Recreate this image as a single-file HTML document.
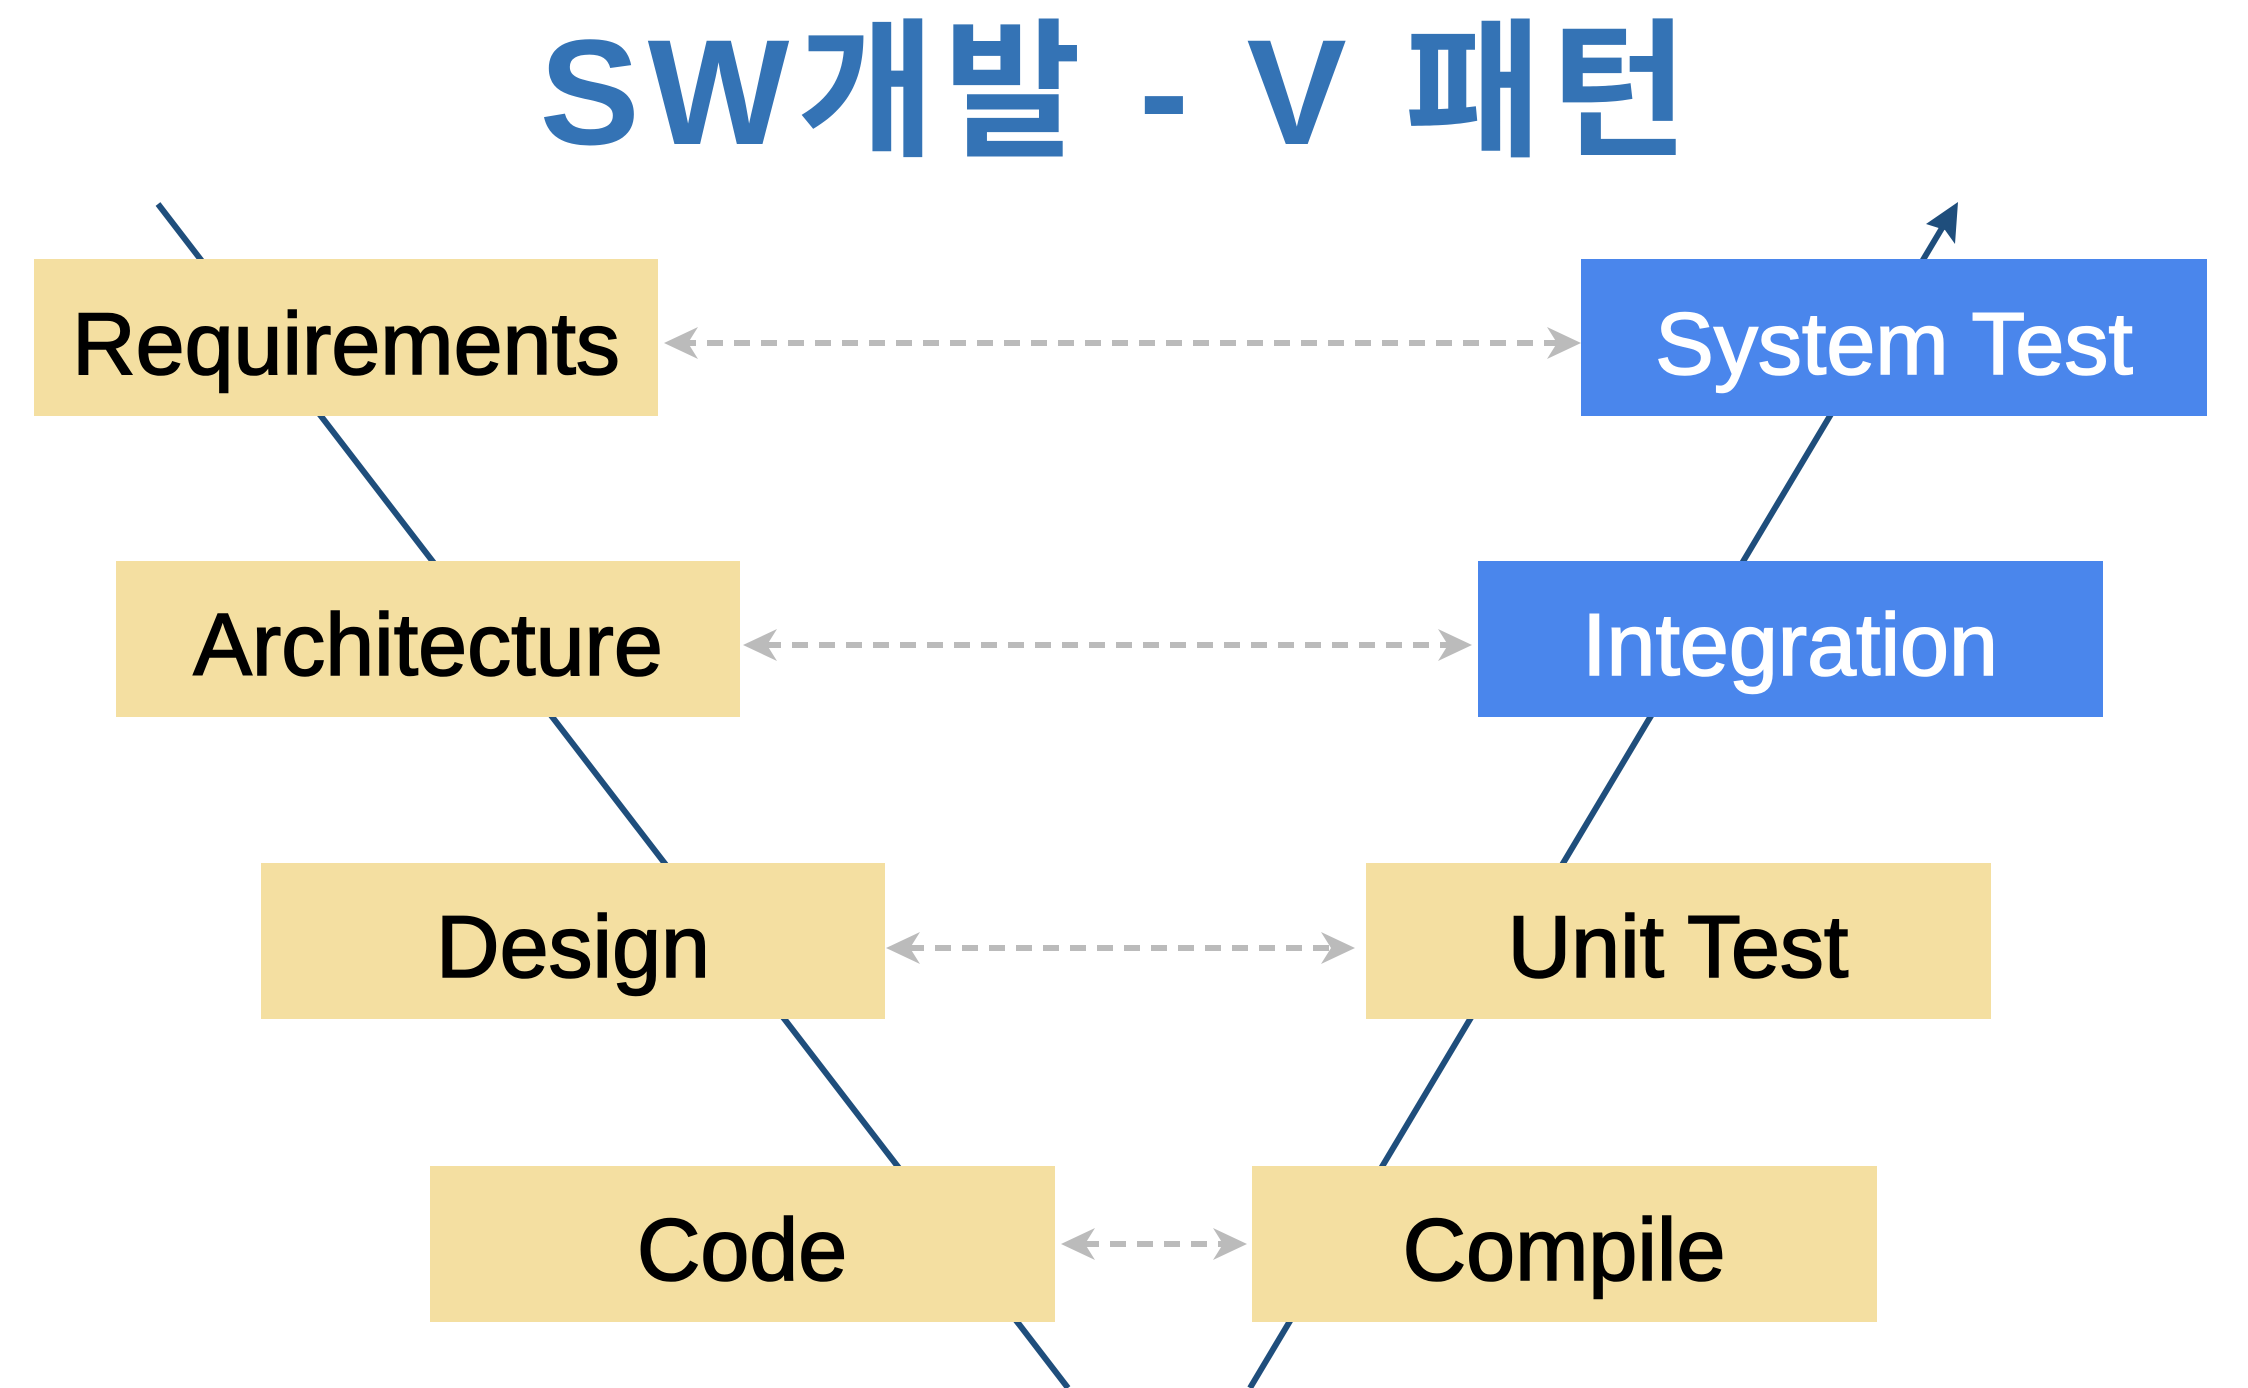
<!DOCTYPE html>
<html><head><meta charset="utf-8"><style>
html,body{margin:0;padding:0;background:#fff;}
svg{display:block;}
</style></head><body>
<svg width="2248" height="1388" viewBox="0 0 2248 1388" xmlns="http://www.w3.org/2000/svg">
<text x="1118" y="144" text-anchor="middle" font-family="'Liberation Sans','Noto Sans CJK KR',sans-serif" font-weight="bold" font-size="150" fill="#3473b5" letter-spacing="8">SW개발 - V 패턴</text>
<line x1="158" y1="204" x2="1068" y2="1388" stroke="#1f4e7c" stroke-width="6"/>
<line x1="1250" y1="1388" x2="1948" y2="218" stroke="#1f4e7c" stroke-width="6"/>
<polygon points="1958,202 1955,244 1945,230 1926,224" fill="#1f4e7c"/>
<g font-family="'Liberation Sans',sans-serif" font-size="88" text-anchor="middle" stroke-width="1.6">
<rect x="34" y="259" width="624" height="157" fill="#f4dfa1"/>
<text x="346" y="374" fill="#000" stroke="#000">Requirements</text>
<rect x="116" y="561" width="624" height="156" fill="#f4dfa1"/>
<text x="428" y="675" fill="#000" stroke="#000">Architecture</text>
<rect x="261" y="863" width="624" height="156" fill="#f4dfa1"/>
<text x="573" y="977" fill="#000" stroke="#000">Design</text>
<rect x="430" y="1166" width="625" height="156" fill="#f4dfa1"/>
<text x="742" y="1280" fill="#000" stroke="#000">Code</text>
<rect x="1581" y="259" width="626" height="157" fill="#4a86ec"/>
<text x="1894" y="374" fill="#fff" stroke="#fff">System Test</text>
<rect x="1478" y="561" width="625" height="156" fill="#4a86ec"/>
<text x="1790" y="675" fill="#fff" stroke="#fff">Integration</text>
<rect x="1366" y="863" width="625" height="156" fill="#f4dfa1"/>
<text x="1678" y="977" fill="#000" stroke="#000">Unit Test</text>
<rect x="1252" y="1166" width="625" height="156" fill="#f4dfa1"/>
<text x="1564" y="1280" fill="#000" stroke="#000">Compile</text>
</g>
<g stroke="#bbbbbb" stroke-width="6" stroke-dasharray="16 11" fill="none">
<line x1="680" y1="343" x2="1560" y2="343"/>
<line x1="765" y1="645" x2="1452" y2="645"/>
<line x1="908" y1="948" x2="1334" y2="948"/>
<line x1="1083" y1="1244" x2="1226" y2="1244"/>
</g>
<g fill="#bbbbbb">
<polygon points="664,343 698,327 688,343 698,359"/>
<polygon points="1581,343 1547,327 1557,343 1547,359"/>
<polygon points="743,645 777,629 767,645 777,661"/>
<polygon points="1472,645 1438,629 1448,645 1438,661"/>
<polygon points="886,948 920,932 910,948 920,964"/>
<polygon points="1355,948 1321,932 1331,948 1321,964"/>
<polygon points="1061,1244 1095,1228 1085,1244 1095,1260"/>
<polygon points="1247,1244 1213,1228 1223,1244 1213,1260"/>
</g>
</svg>
</body></html>
